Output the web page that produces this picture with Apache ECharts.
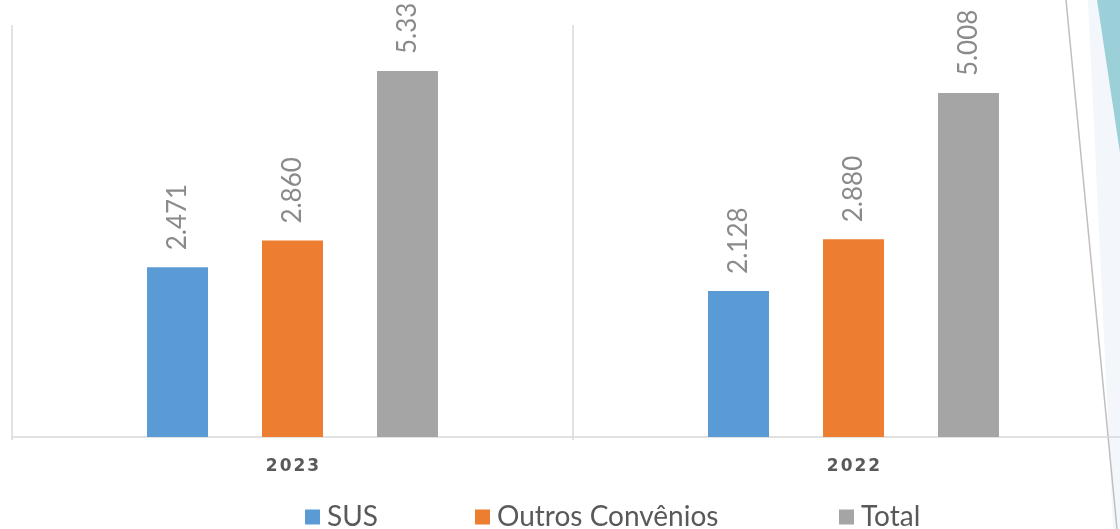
<!DOCTYPE html>
<html><head><meta charset="utf-8">
<script src="https://cdn.jsdelivr.net/npm/echarts@6/dist/echarts.min.js"></script>
<style>html,body{margin:0;padding:0;background:#fff;overflow:hidden;width:1120px;height:529px;}#c{width:1136px;height:529px;}</style>
</head><body><div id="c"></div>
<script>
const categories = ['2023', '2022'];
const seriesNames = ['SUS', 'Outros Convênios', 'Total'];
const susValues = [2.471, 2.128];
const outrosValues = [2.860, 2.880];
const totalValues = [5.33, 5.008];
const susLabels = ['2.471', '2.128'];
const outrosLabels = ['2.860', '2.880'];
const totalLabels = ['5.33', '5.008'];
const colors = ['#5b9bd5', '#ed7d31', '#a5a5a5'];
const legendLefts = [300, 470, 834];

const chart = echarts.init(document.getElementById('c'), null, {renderer: 'canvas'});
function mk(name, vals, labels, color) {
  return {
    name: name, type: 'bar', data: vals, barWidth: 61, barGap: '88.5%',
    itemStyle: {color: color},
    label: {
      show: true, position: 'top', rotate: 90, align: 'left', verticalAlign: 'middle',
      distance: 17, color: '#8a8a8a', fontSize: 26, fontFamily: 'Lato',
      formatter: p => labels[p.dataIndex]
    }
  };
}
chart.setOption({
  animation: false,
  grid: {left: 12, top: 25, width: 1122, height: 412, containLabel: false},
  xAxis: {
    type: 'category', data: categories,
    axisLine: {lineStyle: {color: '#d9d9d9', width: 1.5}},
    axisTick: {show: true, length: 3, lineStyle: {color: '#d9d9d9', width: 1.5}},
    splitLine: {show: true, lineStyle: {color: '#d9d9d9', width: 1.5}},
    axisLabel: {
      margin: 21, color: '#595959', fontWeight: 'bold', fontSize: 17, fontFamily: 'DejaVu Sans',
      formatter: v => v.split('').map(c => '{d|' + c + '}').join(''),
      rich: {d: {color: '#595959', fontWeight: 'bold', fontSize: 17, fontFamily: 'DejaVu Sans', padding: [0, 1, 0, 1]}}
    }
  },
  yAxis: {type: 'value', min: 0, max: 6, show: false, splitLine: {show: false}},
  legend: seriesNames.map((n, i) => ({
    data: [n], left: legendLefts[i], top: 498, icon: 'rect', itemWidth: 15, itemHeight: 15,
    textStyle: {color: '#595959', fontSize: 28, fontFamily: 'Lato', padding: [0, 0, 0, 2]}
  })),
  series: [
    mk(seriesNames[0], susValues, susLabels, colors[0]),
    mk(seriesNames[1], outrosValues, outrosLabels, colors[1]),
    mk(seriesNames[2], totalValues, totalLabels, colors[2])
  ],
  graphic: [
    {type: 'polygon', silent: true, z: -1, shape: {points: [[1088, 0], [1120, 0], [1120, 529], [1113, 529]]}, style: {fill: '#f3f7fb'}},
    {type: 'polygon', silent: true, shape: {points: [[1097, 0], [1120, 0], [1120, 153]]}, style: {fill: '#9bd0d9'}},
    {type: 'line', silent: true, shape: {x1: 1066, y1: 0, x2: 1117, y2: 529}, style: {stroke: '#bfbfbf', lineWidth: 1.5}}
  ]
});
</script></body></html>
